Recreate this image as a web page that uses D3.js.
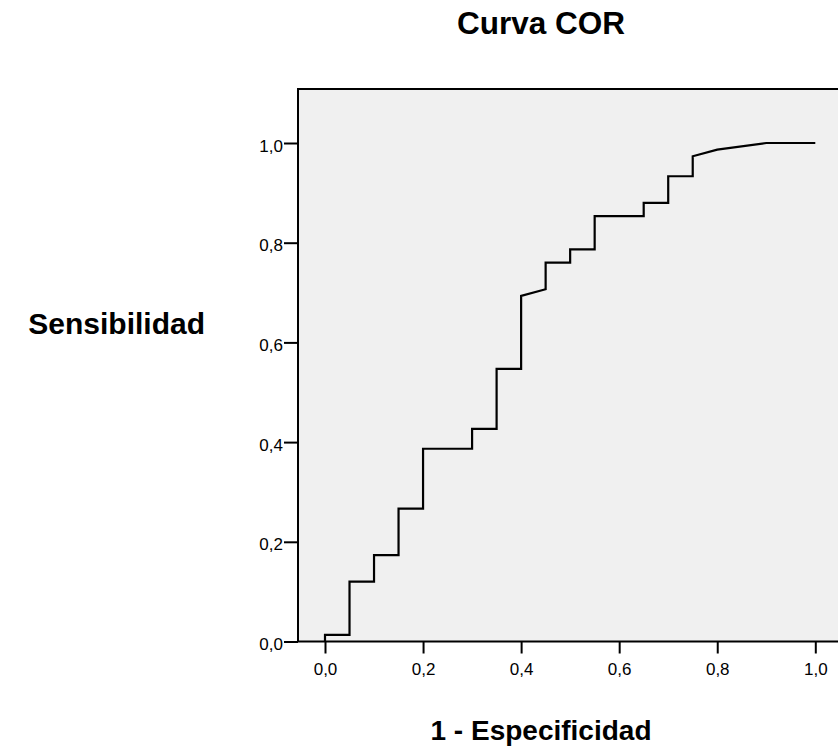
<!DOCTYPE html>
<html>
<head>
<meta charset="utf-8">
<script src="https://cdn.jsdelivr.net/npm/d3@7"></script>
<style>
  html, body { margin: 0; padding: 0; background: #ffffff; }
  svg { display: block; font-family: "Liberation Sans", Arial, sans-serif; }
</style>
</head>
<body>
<svg id="chart" width="838" height="755"></svg>
<script>
// ROC curve points: false positive rate (1 - specificity) and true positive rate (sensitivity)
const fpr = [0, 0, 0.05, 0.05, 0.10, 0.10, 0.15, 0.15, 0.20, 0.20, 0.30, 0.30, 0.35, 0.35,
             0.40, 0.40, 0.45, 0.45, 0.50, 0.50, 0.55, 0.55, 0.65, 0.65, 0.70, 0.70, 0.75, 0.75,
             0.80, 0.90, 1.00];
const tpr = [0, 0.0133, 0.0133, 0.12, 0.12, 0.1733, 0.1733, 0.2667, 0.2667, 0.3867, 0.3867, 0.4267, 0.4267, 0.5467,
             0.5467, 0.6933, 0.7067, 0.76, 0.76, 0.7867, 0.7867, 0.8533, 0.8533, 0.88, 0.88, 0.9333, 0.9333, 0.9733,
             0.9867, 1.0, 1.0];

const xTicks = [0, 0.2, 0.4, 0.6, 0.8, 1.0];
const yTicks = [0, 0.2, 0.4, 0.6, 0.8, 1.0];

const titleText = "Curva COR";
const xLabel = "1 - Especificidad";
const yLabel = "Sensibilidad";

// Decimal comma, one digit
const fmt = d => d3.format(".1f")(d).replace(".", ",");

const svg = d3.select("#chart");

// Frame of the plotting area (its right side runs past the canvas)
const frame = { left: 298, top: 89, right: 846, bottom: 641.5 };

const x = d3.scaleLinear().domain([0, 1]).range([325, 815.3]);
const y = d3.scaleLinear().domain([0, 1]).range([641.5, 143]);

svg.append("rect")
  .attr("x", frame.left).attr("y", frame.top)
  .attr("width", frame.right - frame.left)
  .attr("height", frame.bottom - frame.top)
  .attr("fill", "#f0f0f0")
  .attr("stroke", "#000").attr("stroke-width", 2);

// Bottom axis, ticks hanging below the frame
const xAxis = d3.axisBottom(x).tickValues(xTicks).tickFormat(fmt).tickSize(12).tickSizeOuter(0);
const gx = svg.append("g").attr("transform", `translate(0,${frame.bottom})`).call(xAxis);
gx.select(".domain").remove();
gx.selectAll(".tick line").attr("stroke", "#000").attr("stroke-width", 2);
gx.selectAll(".tick text").attr("fill", "#000").attr("font-size", 17)
  .attr("font-family", "Liberation Sans, Arial, sans-serif").attr("y", 33.5).attr("dy", 0);

// Left axis, ticks pointing out of the frame
const yAxis = d3.axisLeft(y).tickValues(yTicks).tickFormat(fmt).tickSize(14).tickSizeOuter(0);
const gy = svg.append("g").attr("transform", `translate(${frame.left},0)`).call(yAxis);
gy.select(".domain").remove();
gy.selectAll(".tick line").attr("stroke", "#000").attr("stroke-width", 2);
gy.selectAll(".tick text").attr("fill", "#000").attr("font-size", 17)
  .attr("font-family", "Liberation Sans, Arial, sans-serif").attr("x", -15).attr("dy", "0.47em");

// The curve
const pts = fpr.map((d, i) => [d, tpr[i]]);
svg.append("path")
  .datum(pts)
  .attr("fill", "none")
  .attr("stroke", "#000")
  .attr("stroke-width", 2.2)
  .attr("stroke-linejoin", "miter")
  .attr("d", d3.line().x(d => x(d[0])).y(d => y(d[1])));

// Titles
svg.append("text")
  .attr("x", 541).attr("y", 34)
  .attr("text-anchor", "middle")
  .attr("font-weight", "bold").attr("font-size", 31.5)
  .text(titleText);

svg.append("text")
  .attr("x", 541).attr("y", 740)
  .attr("text-anchor", "middle")
  .attr("font-weight", "bold").attr("font-size", 28)
  .text(xLabel);

svg.append("text")
  .attr("x", 205).attr("y", 334)
  .attr("text-anchor", "end")
  .attr("font-weight", "bold").attr("font-size", 30)
  .text(yLabel);
</script>
</body>
</html>
